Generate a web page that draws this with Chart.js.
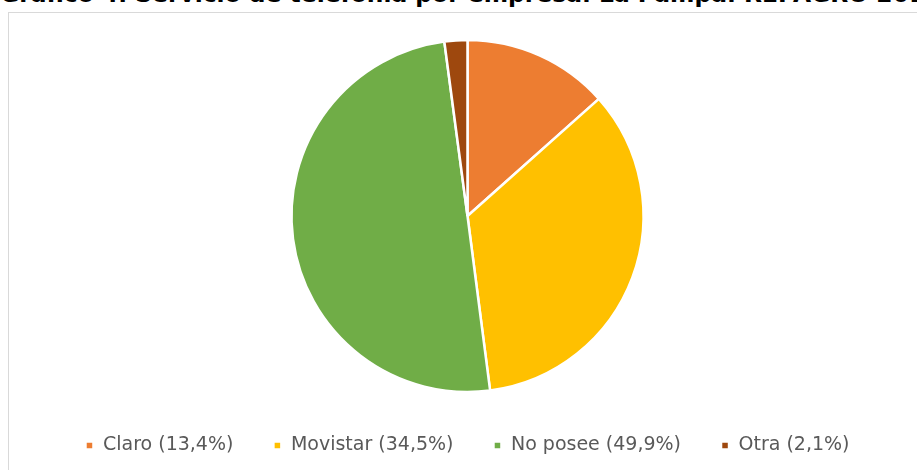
<!DOCTYPE html>
<html>
<head>
<meta charset="utf-8">
<script src="https://cdn.jsdelivr.net/npm/chart.js@4"></script>
<style>
  html, body { margin: 0; padding: 0; background: #fff; overflow: hidden; }
  #wrap { position: relative; width: 917px; height: 470px; overflow: hidden; }
  #frame { position: absolute; left: 8px; top: 12px; width: 940px; height: 480px; border: 1px solid #d9d9d9; box-sizing: border-box; }
  #title { position: absolute; left: 0px; top: -20px; line-height: 1; white-space: nowrap; font: bold 23.4px "DejaVu Sans", sans-serif; color: #000; }
  #chartBox { position: absolute; left: 0; top: 0; width: 917px; height: 470px; }
</style>
</head>
<body>
<div id="wrap">
  <div id="frame"></div>
  <div id="title">Gráfico 4. Servicio de telefonía por empresa. La Pampa. REPAGRO 2018</div>
  <div id="chartBox"><canvas id="myChart"></canvas></div>
</div>
<script>
const labels = ["Claro (13,4%)", "Movistar (34,5%)", "No posee (49,9%)", "Otra (2,1%)"];
const values = [13.4, 34.5, 49.9, 2.1];
const colors = ["#ed7d31", "#ffc000", "#70ad47", "#9e480e"];

new Chart(document.getElementById("myChart"), {
  type: "pie",
  data: {
    labels: labels,
    datasets: [{
      data: values,
      backgroundColor: colors,
      borderColor: "#ffffff",
      borderWidth: 2.5,
      radius: 176
    }]
  },
  options: {
    responsive: true,
    maintainAspectRatio: false,
    animation: false,
    layout: { padding: { top: 36, left: 18, bottom: 5 } },
    plugins: {
      tooltip: { enabled: false },
      legend: {
        position: "bottom",
        labels: {
          boxWidth: 8,
          boxHeight: 8,
          padding: 40,
          color: "#595959",
          font: { family: "DejaVu Sans", size: 19 }
        }
      }
    }
  }
});
</script>
</body>
</html>
